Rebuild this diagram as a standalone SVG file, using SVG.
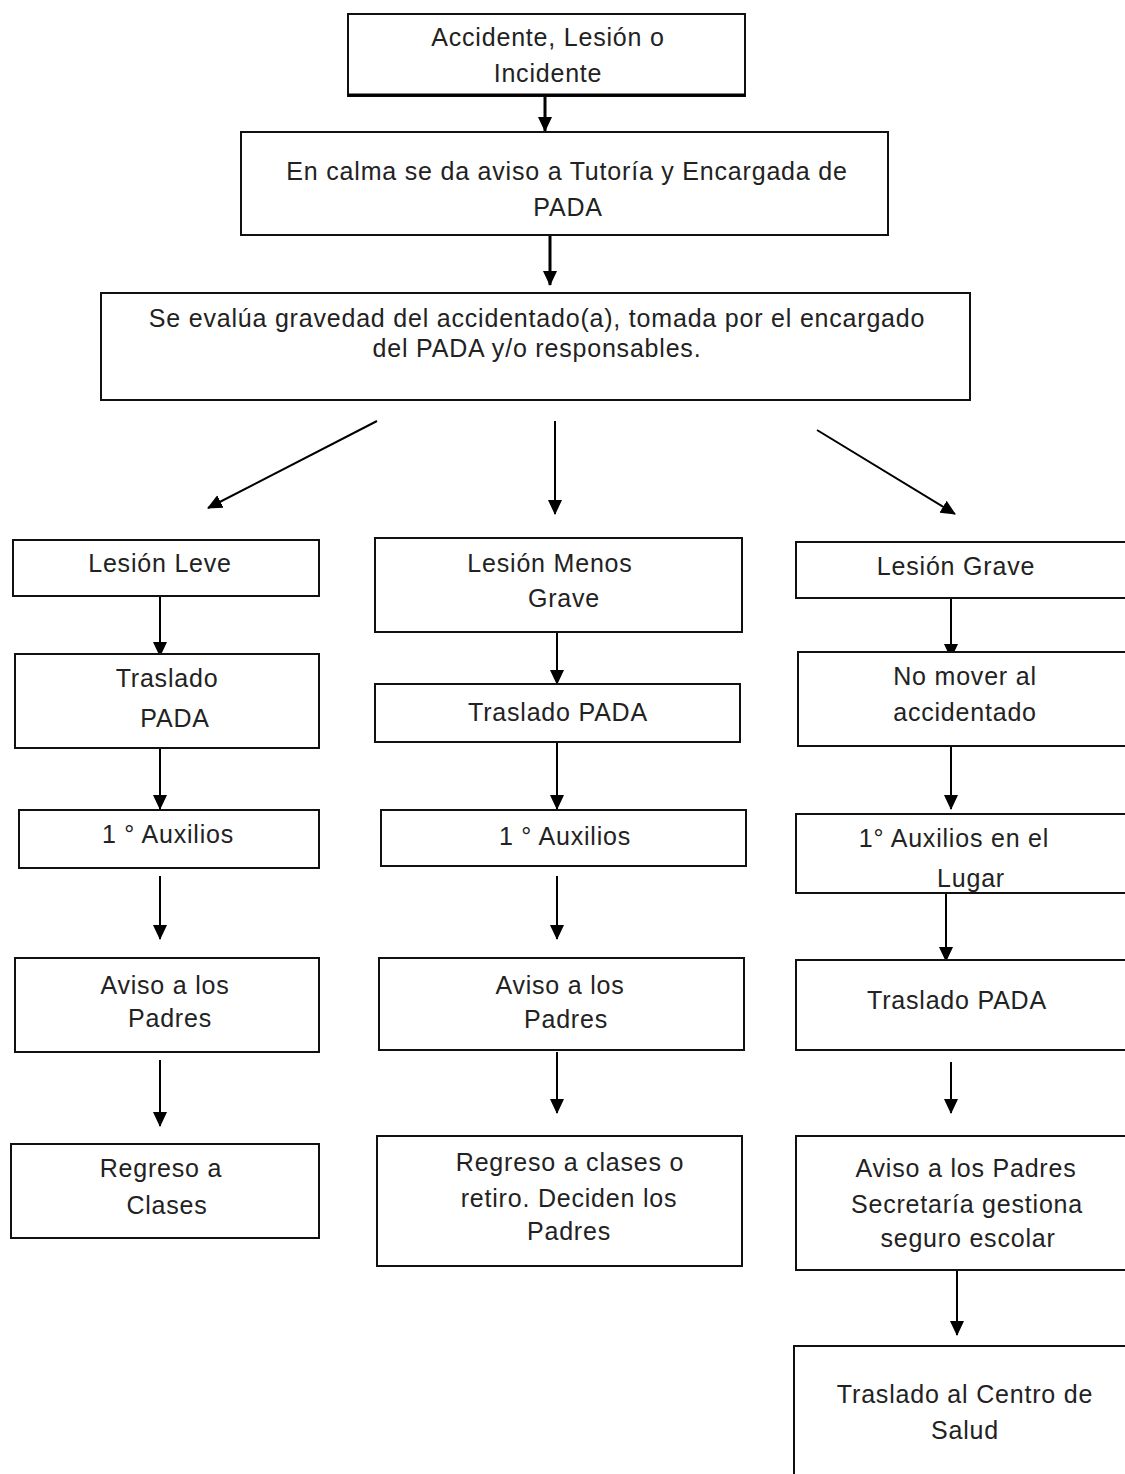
<svg xmlns="http://www.w3.org/2000/svg" width="1125" height="1474" viewBox="0 0 1125 1474">
<style>
.box{fill:#fff;stroke:#111;stroke-width:2}
.t{font-family:"Liberation Sans",Arial,sans-serif;font-size:25px;fill:#222;text-anchor:middle;letter-spacing:0.8px}
.c{stroke:#000;stroke-width:2;fill:none;marker-end:url(#ah)}
</style>
<defs>
<marker id="ah" markerUnits="userSpaceOnUse" markerWidth="16" markerHeight="16" viewBox="0 0 16 16" refX="14" refY="8" orient="auto">
<path d="M0,1 L15,8 L0,15 Z" fill="#000"/>
</marker>
</defs>
<rect width="1125" height="1474" fill="#fff"/>
<g id="connectors">
<line class="c" x1="545" y1="96" x2="545" y2="131" style="stroke-width:3"/>
<line class="c" x1="550" y1="235" x2="550" y2="285" style="stroke-width:3"/>
<line class="c" x1="377" y1="421" x2="208" y2="508"/>
<line class="c" x1="555" y1="421" x2="555" y2="514"/>
<line class="c" x1="817" y1="430" x2="955" y2="514"/>
<line class="c" x1="160" y1="596" x2="160" y2="656"/>
<line class="c" x1="160" y1="748" x2="160" y2="809"/>
<line class="c" x1="160" y1="876" x2="160" y2="939"/>
<line class="c" x1="160" y1="1060" x2="160" y2="1126"/>
<line class="c" x1="557" y1="632" x2="557" y2="684"/>
<line class="c" x1="557" y1="742" x2="557" y2="809"/>
<line class="c" x1="557" y1="876" x2="557" y2="939"/>
<line class="c" x1="557" y1="1052" x2="557" y2="1113"/>
<line class="c" x1="951" y1="598" x2="951" y2="658"/>
<line class="c" x1="951" y1="746" x2="951" y2="809"/>
<line class="c" x1="946" y1="893" x2="946" y2="961"/>
<line class="c" x1="951" y1="1062" x2="951" y2="1113"/>
<line class="c" x1="957" y1="1270" x2="957" y2="1335"/>
</g>
<g id="n1"><rect class="box" x="348" y="14" width="397" height="82"/><line x1="348" y1="95" x2="745" y2="95" stroke="#000" stroke-width="3"/>
<text class="t" x="548" y="46">Accidente, Lesión o</text><text class="t" x="548" y="82">Incidente</text></g>
<g id="n2"><rect class="box" x="241" y="132" width="647" height="103"/>
<text class="t" x="567" y="180">En calma se da aviso a Tutoría y Encargada de</text><text class="t" x="568" y="216">PADA</text></g>
<g id="n3"><rect class="box" x="101" y="293" width="869" height="107"/>
<text class="t" x="537" y="327">Se evalúa gravedad del accidentado(a), tomada por el encargado</text><text class="t" x="537" y="357">del PADA y/o responsables.</text></g>
<g id="l1"><rect class="box" x="13" y="540" width="306" height="56"/><text class="t" x="160" y="572">Lesión Leve</text></g>
<g id="l2"><rect class="box" x="15" y="654" width="304" height="94"/><text class="t" x="167" y="687">Traslado</text><text class="t" x="175" y="727">PADA</text></g>
<g id="l3"><rect class="box" x="19" y="810" width="300" height="58"/><text class="t" x="168" y="843">1 ° Auxilios</text></g>
<g id="l4"><rect class="box" x="15" y="958" width="304" height="94"/><text class="t" x="165" y="994">Aviso a los</text><text class="t" x="170" y="1027">Padres</text></g>
<g id="l5"><rect class="box" x="11" y="1144" width="308" height="94"/><text class="t" x="161" y="1177">Regreso a</text><text class="t" x="167" y="1214">Clases</text></g>
<g id="m1"><rect class="box" x="375" y="538" width="367" height="94"/><text class="t" x="550" y="572">Lesión Menos</text><text class="t" x="564" y="607">Grave</text></g>
<g id="m2"><rect class="box" x="375" y="684" width="365" height="58"/><text class="t" x="558" y="721">Traslado  PADA</text></g>
<g id="m3"><rect class="box" x="381" y="810" width="365" height="56"/><text class="t" x="565" y="845">1 ° Auxilios</text></g>
<g id="m4"><rect class="box" x="379" y="958" width="365" height="92"/><text class="t" x="560" y="994">Aviso a los</text><text class="t" x="566" y="1028">Padres</text></g>
<g id="m5"><rect class="box" x="377" y="1136" width="365" height="130"/><text class="t" x="570" y="1171">Regreso a clases o</text><text class="t" x="569" y="1207">retiro. Deciden los</text><text class="t" x="569" y="1240">Padres</text></g>
<g id="r1"><rect class="box" x="796" y="542" width="340" height="56"/><text class="t" x="956" y="575">Lesión Grave</text></g>
<g id="r2"><rect class="box" x="798" y="652" width="340" height="94"/><text class="t" x="965" y="685">No mover al</text><text class="t" x="965" y="721">accidentado</text></g>
<g id="r3"><rect class="box" x="796" y="814" width="340" height="79"/><text class="t" x="954" y="847">1° Auxilios en el</text><text class="t" x="971" y="887">Lugar</text></g>
<g id="r4"><rect class="box" x="796" y="960" width="340" height="90"/><text class="t" x="957" y="1009">Traslado  PADA</text></g>
<g id="r5"><rect class="box" x="796" y="1136" width="340" height="134"/><text class="t" x="966" y="1177">Aviso a los Padres</text><text class="t" x="967" y="1213">Secretaría gestiona</text><text class="t" x="968" y="1247">seguro escolar</text></g>
<g id="r6"><rect class="box" x="794" y="1346" width="340" height="140"/><text class="t" x="965" y="1403">Traslado al Centro de</text><text class="t" x="965" y="1439">Salud</text></g>
</svg>
